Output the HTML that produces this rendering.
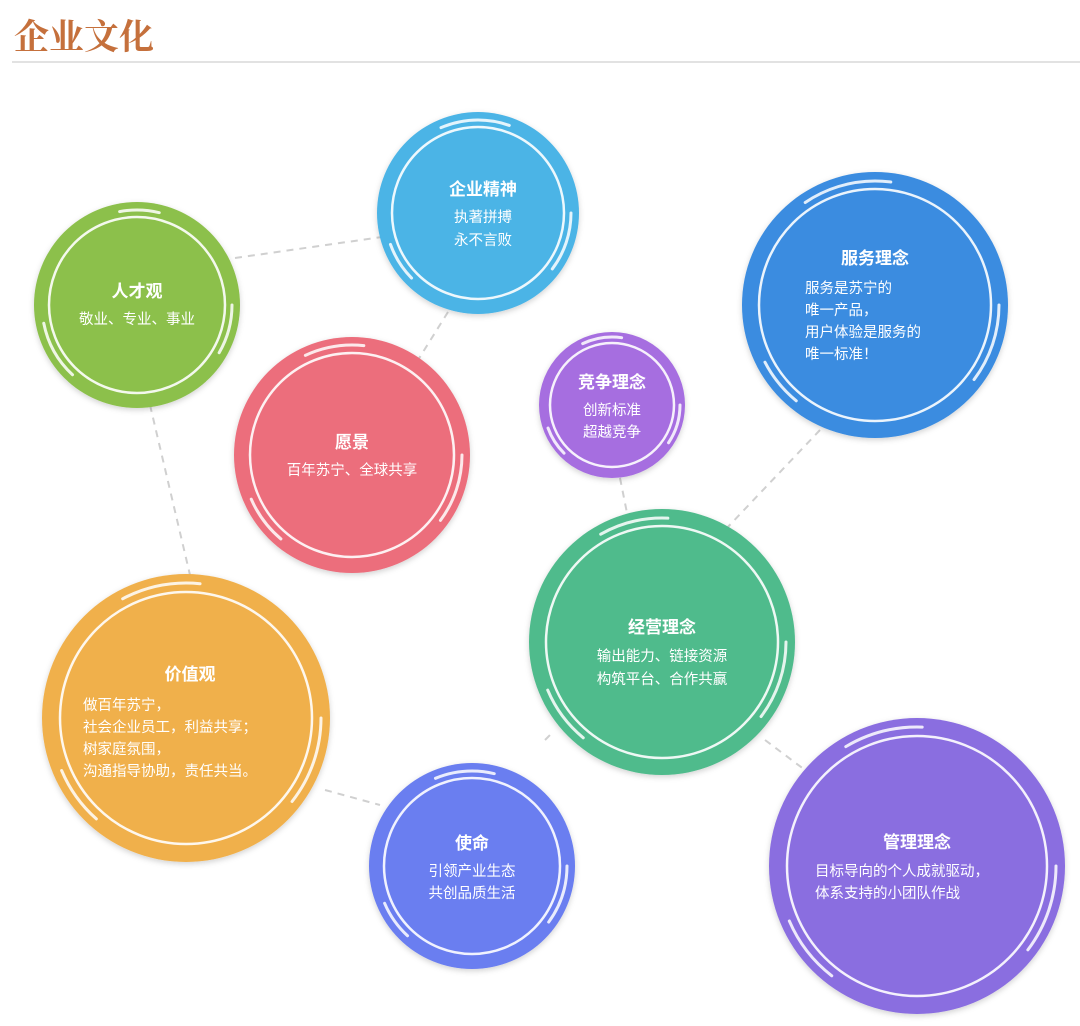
<!DOCTYPE html>
<html><head><meta charset="utf-8"><style>
html,body{margin:0;padding:0;background:#fff;width:1080px;height:1026px;overflow:hidden}
svg text{font-family:"Liberation Sans","Noto Sans CJK SC",sans-serif;fill:#fff;text-anchor:middle}
.t{font-weight:bold;font-size:17px}
.s{font-size:14.5px}
</style></head><body>
<svg width="1080" height="1026" viewBox="0 0 1080 1026">
<text x="14" y="49" style="font-family:'Liberation Serif','Noto Serif CJK SC',serif;font-weight:bold;font-size:35px;fill:#c5703c;text-anchor:start">企业文化</text>
<rect x="12" y="61" width="1068" height="2" fill="#e2e2e2"/>
<g stroke="#d0d0d0" stroke-width="2" stroke-dasharray="7,6" fill="none">
<line x1="235" y1="258" x2="382" y2="237"/>
<line x1="448" y1="312" x2="418" y2="360"/>
<line x1="150" y1="405" x2="190" y2="575"/>
<line x1="620" y1="478" x2="628" y2="518"/>
<line x1="820" y1="430" x2="725" y2="530"/>
<line x1="325" y1="790" x2="380" y2="805"/>
<line x1="765" y1="740" x2="805" y2="770"/>
<line x1="545" y1="740" x2="550" y2="735"/>
</g>
<defs><filter id="sh" x="-20%" y="-20%" width="140%" height="140%"><feDropShadow dx="0" dy="2" stdDeviation="3" flood-opacity="0.18"/></filter></defs>
<g filter="url(#sh)">
<circle cx="478" cy="213" r="101" fill="#4cb4e6"/>
<circle cx="137" cy="305" r="103" fill="#8cc04c"/>
<circle cx="875" cy="305" r="133" fill="#3a8ce0"/>
<circle cx="352" cy="455" r="118" fill="#ec6e7c"/>
<circle cx="612" cy="405" r="73" fill="#a66ee0"/>
<circle cx="662" cy="642" r="133" fill="#4fbb8c"/>
<circle cx="186" cy="718" r="144" fill="#f0b04c"/>
<circle cx="472" cy="866" r="103" fill="#6a7ef0"/>
<circle cx="917" cy="866" r="148" fill="#8a6ee0"/>
</g>
<g fill="none" stroke="#fff" stroke-width="2.5" opacity="0.9">
<circle cx="478" cy="213" r="86"/>
<circle cx="137" cy="305" r="88"/>
<circle cx="875" cy="305" r="116"/>
<circle cx="352" cy="455" r="102"/>
<circle cx="612" cy="405" r="62"/>
<circle cx="662" cy="642" r="116"/>
<circle cx="186" cy="718" r="126"/>
<circle cx="472" cy="866" r="88"/>
<circle cx="917" cy="866" r="130"/>
</g>
<g fill="none" stroke="#fff" stroke-width="3" stroke-linecap="round" opacity="0.85">
<circle cx="478" cy="213" r="93" stroke-dasharray="60 160 40 140 70 200"/>
<circle cx="137" cy="305" r="95" stroke-dasharray="50 170 60 150 40 200"/>
<circle cx="875" cy="305" r="124" stroke-dasharray="80 200 50 180 90 200"/>
<circle cx="352" cy="455" r="110" stroke-dasharray="70 180 50 170 60 200"/>
<circle cx="612" cy="405" r="68" stroke-dasharray="40 120 30 100"/>
<circle cx="662" cy="642" r="124" stroke-dasharray="80 200 60 180 70 200"/>
<circle cx="186" cy="718" r="135" stroke-dasharray="90 220 60 200 80 200"/>
<circle cx="472" cy="866" r="95" stroke-dasharray="60 160 40 150 60 200"/>
<circle cx="917" cy="866" r="139" stroke-dasharray="90 220 70 200 80 220"/>
</g>
<text class="t" x="483" y="195">企业精神</text>
<text class="s" x="483" y="222">执著拼搏</text>
<text class="s" x="483" y="245">永不言败</text>
<text class="t" x="137" y="297">人才观</text>
<text class="s" x="137" y="324">敬业、专业、事业</text>
<text class="t" x="875" y="264">服务理念</text>
<text class="s" x="805" y="293" style="text-anchor:start">服务是苏宁的</text>
<text class="s" x="805" y="315" style="text-anchor:start">唯一产品，</text>
<text class="s" x="805" y="337" style="text-anchor:start">用户体验是服务的</text>
<text class="s" x="805" y="359" style="text-anchor:start">唯一标准！</text>
<text class="t" x="352" y="448">愿景</text>
<text class="s" x="352" y="475">百年苏宁、全球共享</text>
<text class="t" x="612" y="388">竞争理念</text>
<text class="s" x="612" y="415">创新标准</text>
<text class="s" x="612" y="437">超越竞争</text>
<text class="t" x="662" y="633">经营理念</text>
<text class="s" x="662" y="661">输出能力、链接资源</text>
<text class="s" x="662" y="684">构筑平台、合作共赢</text>
<text class="t" x="190" y="680">价值观</text>
<text class="s" x="83" y="710" style="text-anchor:start">做百年苏宁，</text>
<text class="s" x="83" y="732" style="text-anchor:start">社会企业员工，利益共享；</text>
<text class="s" x="83" y="754" style="text-anchor:start">树家庭氛围，</text>
<text class="s" x="83" y="776" style="text-anchor:start">沟通指导协助，责任共当。</text>
<text class="t" x="472" y="849">使命</text>
<text class="s" x="472" y="876">引领产业生态</text>
<text class="s" x="472" y="898">共创品质生活</text>
<text class="t" x="917" y="848">管理理念</text>
<text class="s" x="815" y="876" style="text-anchor:start">目标导向的个人成就驱动，</text>
<text class="s" x="815" y="898" style="text-anchor:start">体系支持的小团队作战</text>
</svg>
</body></html>
